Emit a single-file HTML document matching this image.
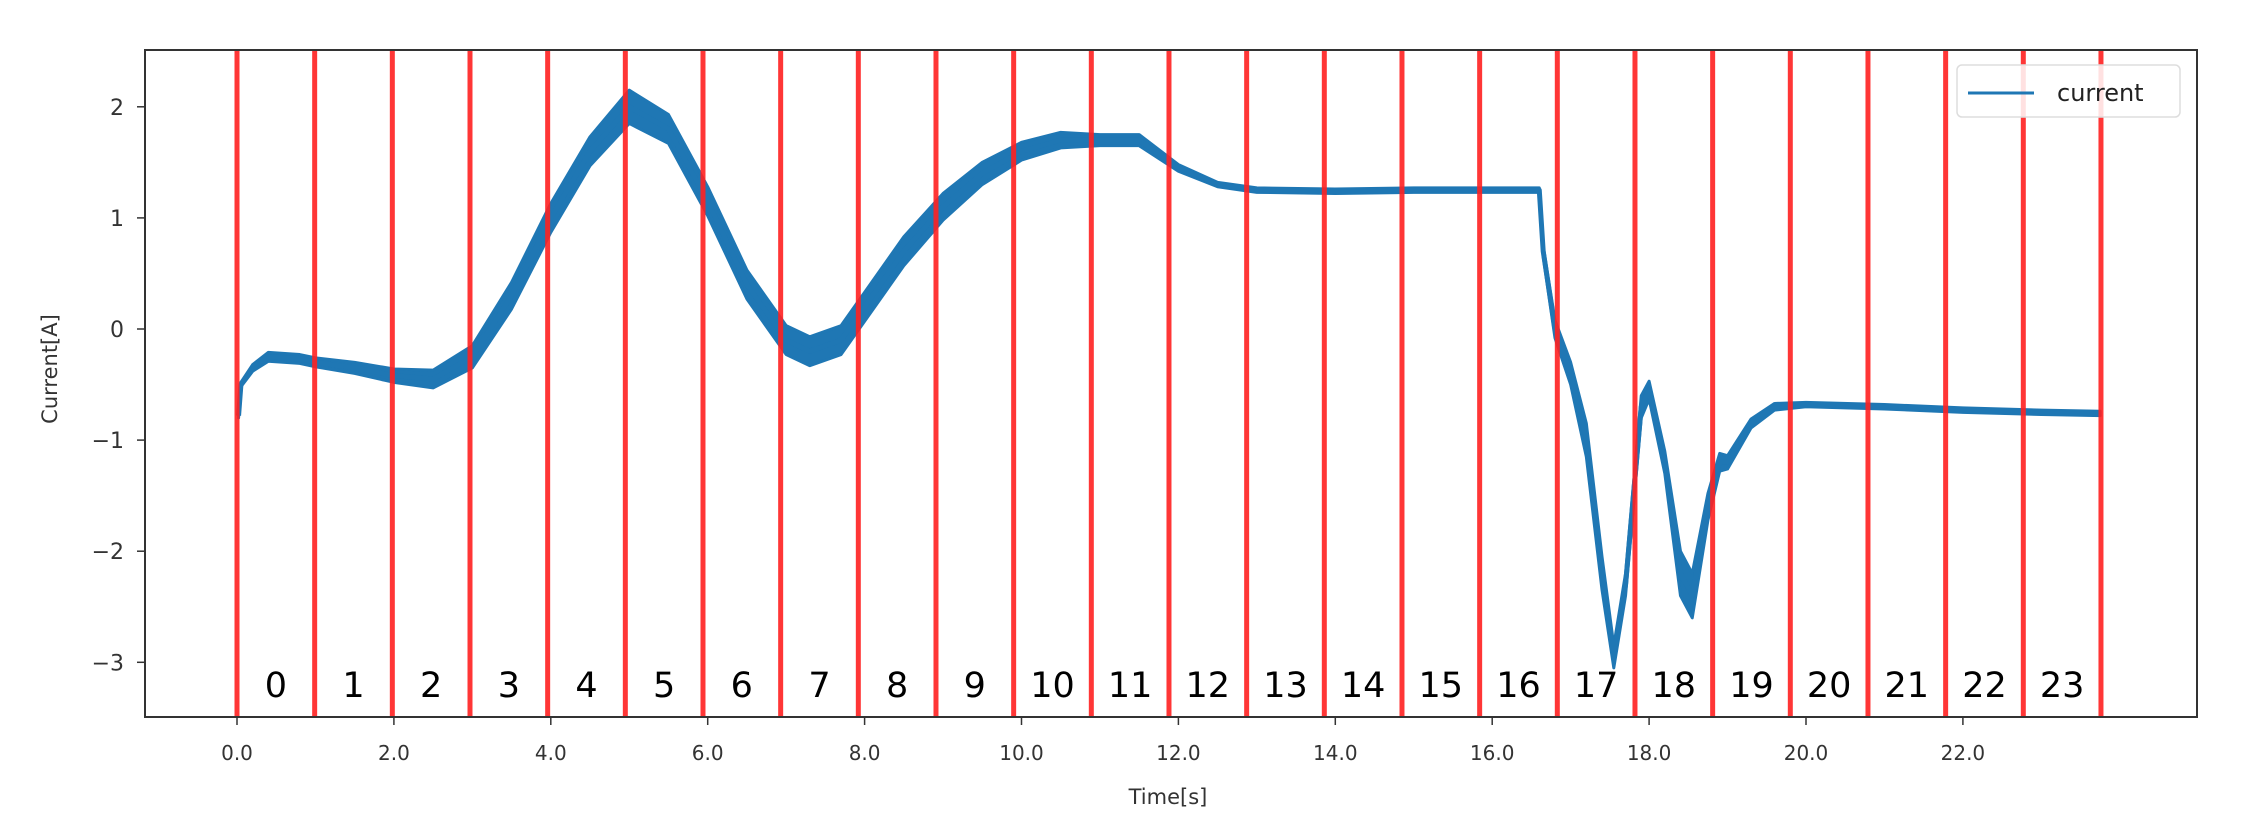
<!DOCTYPE html>
<html><head><meta charset="utf-8"><style>
body{margin:0;background:#fff;}
svg{display:block;font-family:"DejaVu Sans","Liberation Sans",sans-serif;}
</style></head><body>
<svg id="chart" width="2261" height="840" viewBox="0 0 2261 840" xmlns="http://www.w3.org/2000/svg">
<g id="marks"></g>
<rect x="145" y="50" width="2052" height="667" fill="none" stroke="#333" stroke-width="2"/>
<g id="axes"></g>
<text x="0" y="0" transform="translate(57,369) rotate(-90)" text-anchor="middle" font-size="21" fill="#333">Current[A]</text>
<text x="1168" y="804" text-anchor="middle" font-size="21" fill="#333">Time[s]</text>
<g>
<rect x="1957" y="65" width="223" height="52" rx="5" fill="#fff" fill-opacity="0.85" stroke="#ddd" stroke-width="1.5"/>
<line x1="1968" y1="93" x2="2034" y2="93" stroke="#1f77b4" stroke-width="3"/>
<text x="2057" y="101" font-size="24" fill="#222">current</text>
</g>
</svg>
<script>
const times=[0.02,0.05,0.2,0.4,0.8,1.0,1.5,2.0,2.5,3.0,3.5,4.0,4.5,5.0,5.5,6.0,6.5,7.0,7.3,7.7,8.0,8.5,9.0,9.5,10.0,10.5,11.0,11.5,12.0,12.5,13.0,14,15,16,16.6,16.65,16.8,17.0,17.2,17.4,17.55,17.7,17.9,18.0,18.2,18.4,18.55,18.75,18.9,19.0,19.3,19.6,20,21,22,23,23.75];
const current=[-0.78,-0.5,-0.35,-0.25,-0.27,-0.3,-0.35,-0.42,-0.45,-0.25,0.3,1.0,1.6,2.0,1.8,1.15,0.4,-0.1,-0.2,-0.1,0.2,0.7,1.1,1.4,1.6,1.7,1.7,1.7,1.45,1.3,1.25,1.24,1.25,1.25,1.25,0.7,0.0,-0.4,-1.0,-2.2,-2.95,-2.3,-0.7,-0.55,-1.2,-2.2,-2.4,-1.6,-1.2,-1.2,-0.85,-0.7,-0.68,-0.7,-0.73,-0.75,-0.76];
const noise=[0.02,0.02,0.03,0.04,0.04,0.04,0.05,0.06,0.08,0.1,0.12,0.13,0.13,0.15,0.13,0.13,0.13,0.13,0.13,0.13,0.13,0.13,0.12,0.1,0.08,0.07,0.05,0.05,0.03,0.02,0.02,0.02,0.02,0.02,0.02,0.05,0.08,0.1,0.15,0.15,0.1,0.1,0.1,0.08,0.1,0.2,0.2,0.12,0.08,0.06,0.04,0.03,0.02,0.02,0.02,0.02,0.02];
const xTicks=[0,2,4,6,8,10,12,14,16,18,20,22];
const yTicks=[2,1,0,-1,-2,-3];
const segCount=24;
const segWidth=0.99;

const NS="http://www.w3.org/2000/svg";
const X=t=>237+78.45*t;
const Y=v=>329-111.1*v;
const marks=document.getElementById('marks');
const axes=document.getElementById('axes');
function mk(tag,attrs,parent){const e=document.createElementNS(NS,tag);for(const k in attrs)e.setAttribute(k,attrs[k]);parent.appendChild(e);return e;}

let up=[],dn=[];
for(let i=0;i<times.length;i++){up.push(X(times[i])+','+Y(current[i]+noise[i]));dn.unshift(X(times[i])+','+Y(current[i]-noise[i]));}
const band=mk('polygon',{points:up.concat(dn).join(' '),fill:'#1f77b4',stroke:'#1f77b4','stroke-width':3,'stroke-linejoin':'round'},marks);


const line=mk('polyline',{points:times.map((t,i)=>X(t)+','+Y(current[i])).join(' '),fill:'none',stroke:'#1f77b4','stroke-width':5,'stroke-linejoin':'round'},marks);



for(let i=0;i<=segCount;i++){
  const x=X(i*segWidth);
  const l=mk('line',{x1:x,y1:50,x2:x,y2:717,stroke:'#ff2020','stroke-opacity':0.9,'stroke-width':5},marks);
  
  
  if(i<segCount){
    const tx=mk('text',{x:X((i+0.5)*segWidth),y:697,'text-anchor':'middle','font-size':35,fill:'#000'},marks);
    
    
    tx.textContent=String(i);
  }
}
xTicks.forEach(t=>{
  const x=X(t);
  const tk=mk('line',{x1:x,y1:717,x2:x,y2:725,stroke:'#333','stroke-width':1.5},axes);
  
  
  const tx=mk('text',{x:x,y:760,'text-anchor':'middle','font-size':20,fill:'#333'},axes);
  
  
  tx.textContent=t.toFixed(1);
});
yTicks.forEach(v=>{
  const y=Y(v);
  const tk=mk('line',{x1:137,y1:y,x2:145,y2:y,stroke:'#333','stroke-width':1.5},axes);
  
  
  const tx=mk('text',{x:124,y:y+8,'text-anchor':'end','font-size':22,fill:'#333'},axes);
  
  
  tx.textContent=v<0?'\u2212'+(-v):String(v);
});
</script>
</body></html>
